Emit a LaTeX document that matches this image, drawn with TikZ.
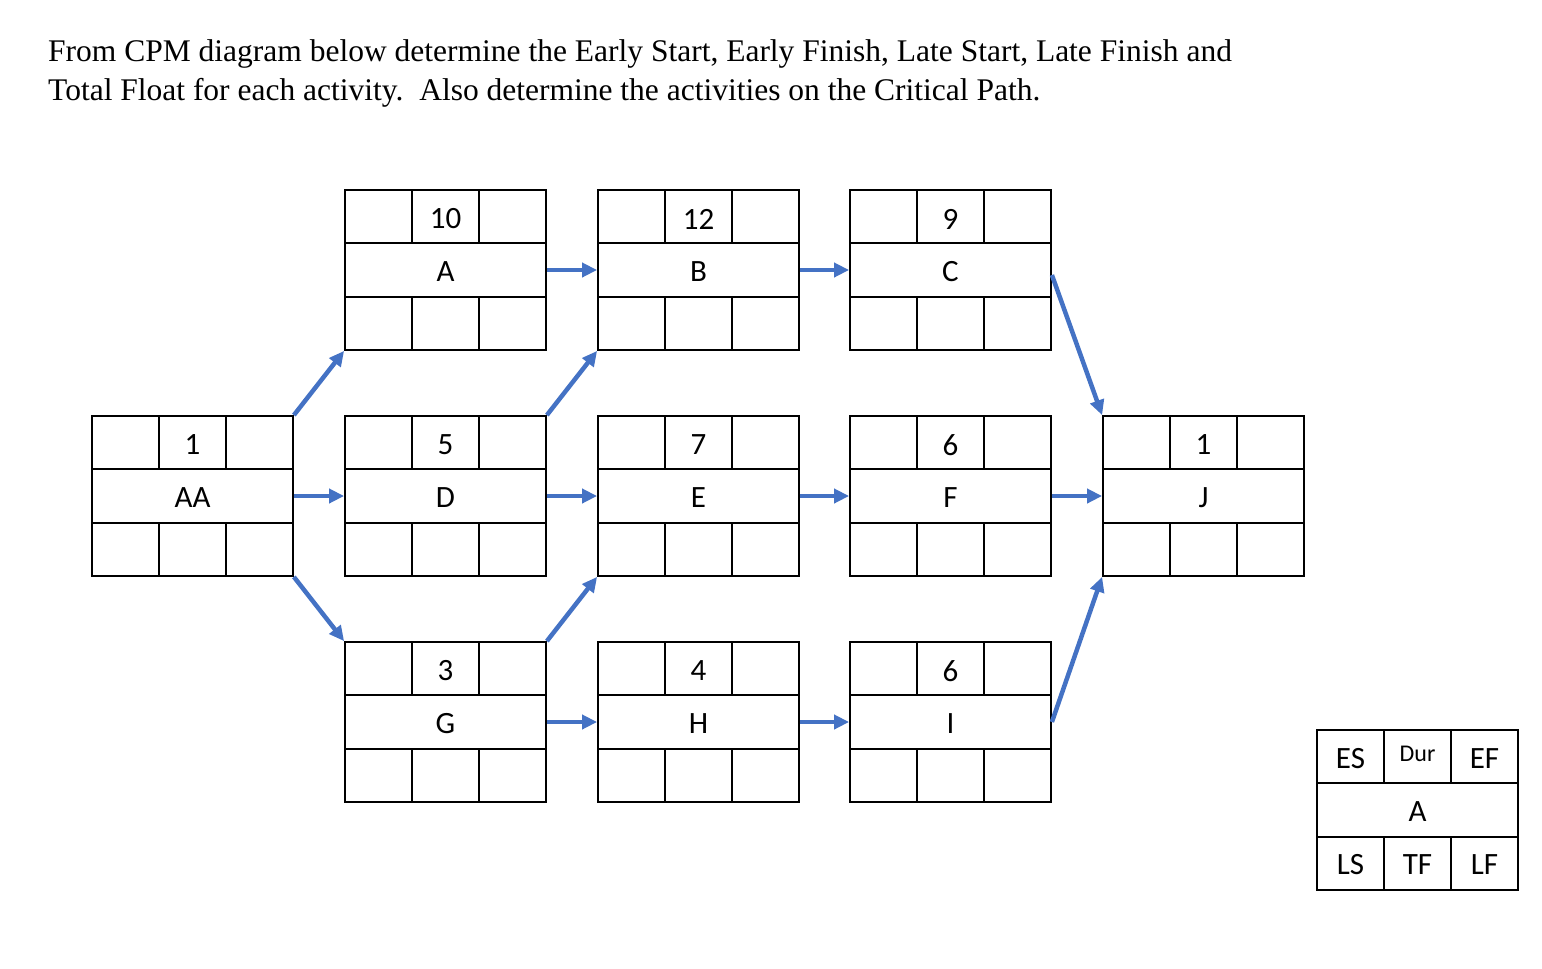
\documentclass[tikz,border=0pt]{standalone}
\usepackage{fontspec}
\setmainfont{Liberation Serif}
\newfontfamily\boxfont{Carlito}
\usepackage{tikz}
\usetikzlibrary{calc}
\usetikzlibrary{arrows.meta}
\usetikzlibrary{positioning}
\definecolor{cpmblue}{RGB}{68,114,196}
\tikzset{
	cpmbox/.style={draw,line width=1.8pt,minimum width=201pt,minimum height=160pt,inner sep=0pt},
	cpmline/.style={line width=1.8pt},
	cpmtext/.style={font=\boxfont\fontsize{31}{33}\selectfont},
	cpmarrow/.style={cpmblue,line width=4.5pt,-{Triangle[length=15pt,width=14pt]}}
}
\begin{document}
\begin{tikzpicture}[x=1pt,y=-1pt]
	\useasboundingbox (0,0) rectangle (1542,969);
	\node[anchor=base west,inner sep=0pt,font=\fontsize{31.5}{36}\selectfont] (title1) at (48,61) {From CPM diagram below determine the Early Start, Early Finish, Late Start, Late Finish and};
	\node[anchor=base west,inner sep=0pt,font=\fontsize{31.5}{36}\selectfont] (title2) at (48,100) {Total Float for each activity.\ \ Also determine the activities on the Critical Path.};
	% activity boxes
	\foreach \n/\x/\y/\d in {AA/92/416/1, A/345/190/10, B/598/190/12, C/850/190/9,
		D/345/416/5, E/598/416/7, F/850/416/6, J/1103/416/1,
		G/345/642/3, H/598/642/4, I/850/642/6}{
		\node[cpmbox] (\n) at (\x+100.5,\y+80) {};
		\draw[cpmline] (\x,\y+53.3) -- (\x+201,\y+53.3);
		\draw[cpmline] (\x,\y+106.7) -- (\x+201,\y+106.7);
		\draw[cpmline] (\x+67,\y) -- (\x+67,\y+53.3);
		\draw[cpmline] (\x+134,\y) -- (\x+134,\y+53.3);
		\draw[cpmline] (\x+67,\y+106.7) -- (\x+67,\y+160);
		\draw[cpmline] (\x+134,\y+106.7) -- (\x+134,\y+160);
		\node[cpmtext] at (\x+100.5,\y+29) {\d};
		\node[cpmtext] at (\x+100.5,\y+82) {\n};
	}
	% key
	\node[cpmbox] (key) at (1417.5,810) {};
	\draw[cpmline] (1317,783.3) -- (1518,783.3);
	\draw[cpmline] (1317,836.7) -- (1518,836.7);
	\draw[cpmline] (1384,730) -- (1384,783.3);
	\draw[cpmline] (1451,730) -- (1451,783.3);
	\draw[cpmline] (1384,836.7) -- (1384,890);
	\draw[cpmline] (1451,836.7) -- (1451,890);
	\node[cpmtext] at (1350.5,759) {ES};
	\node[cpmtext,font=\boxfont\fontsize{24}{26}\selectfont] at (1417.5,754) {Dur};
	\node[cpmtext] at (1484.5,759) {EF};
	\node[cpmtext] at (1417.5,812) {A};
	\node[cpmtext] at (1350.5,865) {LS};
	\node[cpmtext] at (1417.5,865) {TF};
	\node[cpmtext] at (1484.5,865) {LF};
	% links
	\draw[cpmarrow] (AA.north east) -- (A.south west);
	\draw[cpmarrow] (AA.east) -- (D.west);
	\draw[cpmarrow] (AA.south east) -- (G.north west);
	\draw[cpmarrow] (A.east) -- (B.west);
	\draw[cpmarrow] (B.east) -- (C.west);
	\draw[cpmarrow] (D.north east) -- (B.south west);
	\draw[cpmarrow] (D.east) -- (E.west);
	\draw[cpmarrow] (E.east) -- (F.west);
	\draw[cpmarrow] (G.north east) -- (E.south west);
	\draw[cpmarrow] (G.east) -- (H.west);
	\draw[cpmarrow] (H.east) -- (I.west);
	\draw[cpmarrow] ([yshift=-5pt]C.east) -- (J.north west);
	\draw[cpmarrow] (F.east) -- (J.west);
	\draw[cpmarrow] (I.east) -- (J.south west);
\end{tikzpicture}
\end{document}
